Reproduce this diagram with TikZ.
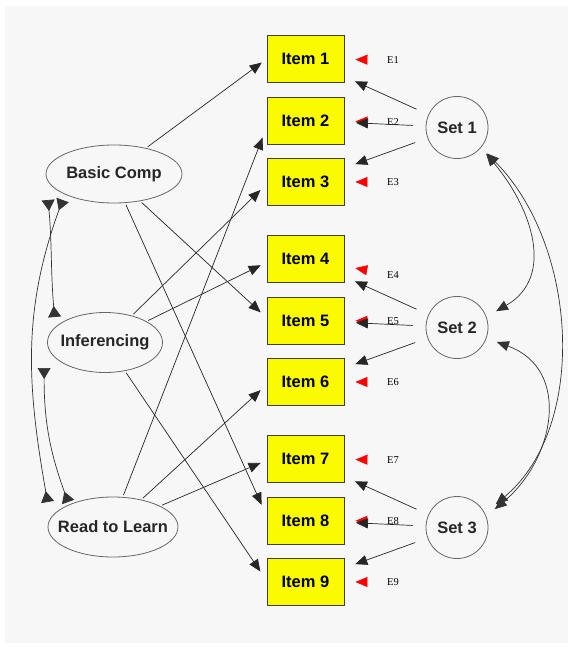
\documentclass[tikz,border=0pt]{standalone}
\usepackage{fontspec}
\setmainfont{Liberation Sans}
\newfontfamily\errfont{Liberation Serif}
\usetikzlibrary{arrows.meta,shapes.geometric}

\definecolor{panelgray}{RGB}{247,247,247}
\definecolor{itemyellow}{RGB}{250,250,0}

\tikzset{
	item/.style={draw=black!75, fill=itemyellow, line width=0.9pt, minimum width=77pt, minimum height=47pt, inner sep=0pt, font=\fontsize{16.5}{19}\selectfont\bfseries},
	factor/.style={ellipse, draw=black!60, line width=0.8pt, inner sep=0pt, text=black!85, font=\fontsize{16.5}{19}\selectfont\bfseries},
	setc/.style={circle, draw=black!60, line width=0.8pt, minimum size=62pt, inner sep=0pt, text=black!85, font=\fontsize{16.5}{19}\selectfont\bfseries},
	errlab/.style={inner sep=0.5pt, font=\errfont\fontsize{10.5}{11}\selectfont},
	loading/.style={draw=black!85, line width=0.7pt, -{Triangle[length=12pt,width=10pt]}, shorten <=2pt},
	setarr/.style={draw=black!85, line width=0.7pt, -{Triangle[length=12pt,width=10pt]}, shorten <=13pt, shorten >=11.5pt},
	errarr/.style={draw=panelgray, line width=0.7pt, -{Triangle[length=12pt,width=10pt,color=red]}, shorten >=11pt},
	cov/.style={draw=black!80, line width=0.7pt, {Triangle[length=12pt,width=10pt]}-{Triangle[length=12pt,width=10pt]}},
	covleft/.style={draw=black!80, line width=0.7pt, {Triangle[reversed,length=11pt,width=13pt]}-{Triangle[reversed,length=11pt,width=13pt]}}
}

\begin{document}
\begin{tikzpicture}[x=1pt, y=1pt]
			%%%%% START %%%%%
			
			\useasboundingbox (0, 0) rectangle (573, -647);
			\fill[panelgray] (5, -6) rectangle (568, -643);
			
			\node[item] (item1) at (305.5, -59) {Item 1};
			\node[item] (item2) at (305.5, -120.5) {Item 2};
			\node[item] (item3) at (305.5, -182) {Item 3};
			\node[item] (item4) at (305.5, -259) {Item 4};
			\node[item] (item5) at (305.5, -320.5) {Item 5};
			\node[item] (item6) at (305.5, -382) {Item 6};
			\node[item] (item7) at (305.5, -459) {Item 7};
			\node[item] (item8) at (305.5, -520.5) {Item 8};
			\node[item] (item9) at (305.5, -582) {Item 9};
			
			\node[factor, minimum width=136pt, minimum height=58pt] (bc) at (114, -174) {Basic Comp};
			\node[factor, minimum width=115pt, minimum height=60pt, inner xsep=-4pt] (inf) at (105, -342.5) {Inferencing};
			\node[factor, minimum width=130pt, minimum height=60pt, inner xsep=-9.5pt] (rtl) at (113, -527) {Read to Learn};
			
			\node[setc] (set1) at (457, -127.5) {Set 1};
			\node[setc] (set2) at (457, -327.5) {Set 2};
			\node[setc] (set3) at (457, -527.5) {Set 3};
			
			\node[errlab] (e1) at (393, -60) {E1};
			\node[errlab] (e2) at (393, -122) {E2};
			\node[errlab] (e3) at (393, -182) {E3};
			\node[errlab] (e4) at (393, -275) {E4};
			\node[errlab] (e5) at (393, -321) {E5};
			\node[errlab] (e6) at (393, -382) {E6};
			\node[errlab] (e7) at (393, -460) {E7};
			\node[errlab] (e8) at (393, -521) {E8};
			\node[errlab] (e9) at (393, -582) {E9};
			
			\draw[errarr] (e1) -- (item1);
			\draw[errarr] (e2) -- (item2);
			\draw[errarr] (e3) -- (item3);
			\draw[errarr] (e4) -- (item4);
			\draw[errarr] (e5) -- (item5);
			\draw[errarr] (e6) -- (item6);
			\draw[errarr] (e7) -- (item7);
			\draw[errarr] (e8) -- (item8);
			\draw[errarr] (e9) -- (item9);
			
			\draw[loading, shorten >=6pt] (bc.39) -- (item1.180);
			\draw[loading, shorten >=8pt] (bc.-46) -- (item5.176);
			\draw[loading, shorten >=12pt] (bc.-69) -- (item8.173);
			\draw[loading, shorten >=8.5pt] (inf.45) -- (item3.183);
			\draw[loading, shorten >=6.5pt] (inf.27) -- (item4.185);
			\draw[loading, shorten >=11pt] (inf.-55) -- (item9.178);
			\draw[loading, shorten >=11pt] (rtl.72) -- (item2.190);
			\draw[loading, shorten >=8pt] (rtl.44) -- (item6.184);
			\draw[loading, shorten >=6.5pt] (rtl.24) -- (item7.182);
			
			\draw[setarr] (set1) -- (item1);
			\draw[setarr] (set1) -- (item2);
			\draw[setarr] (set1) -- (item3);
			\draw[setarr] (set2) -- (item4);
			\draw[setarr] (set2) -- (item5);
			\draw[setarr] (set2) -- (item6);
			\draw[setarr] (set3) -- (item7);
			\draw[setarr] (set3) -- (item8);
			\draw[setarr] (set3) -- (item9);
			
			\draw[cov, shorten <=8pt, shorten >=11pt] (set1.-40) to[out=-50, in=30, looseness=1.2] (set2.20);
			\draw[cov, shorten <=8pt, shorten >=14pt] (set1.-40) to[out=-45, in=40, looseness=0.95] (set3.27);
			\draw[cov, shorten <=11pt, shorten >=11pt] (set2.-20) to[out=-20, in=40, looseness=1.3] (set3.21);
			
			\draw[covleft] ([shift={(2.5,-26)}]bc.west) to[out=-85, in=95] ([shift={(7.5,25.5)}]inf.west);
			\draw[covleft] ([shift={(17,-26)}]bc.west) to[out=-110, in=100] ([shift={(0,25)}]rtl.west);
			\draw[covleft] ([shift={(-3,-25.5)}]inf.west) to[out=-90, in=110] ([shift={(20.5,25)}]rtl.west);
			
			%%%%% END %%%%%
\end{tikzpicture}
\end{document}
